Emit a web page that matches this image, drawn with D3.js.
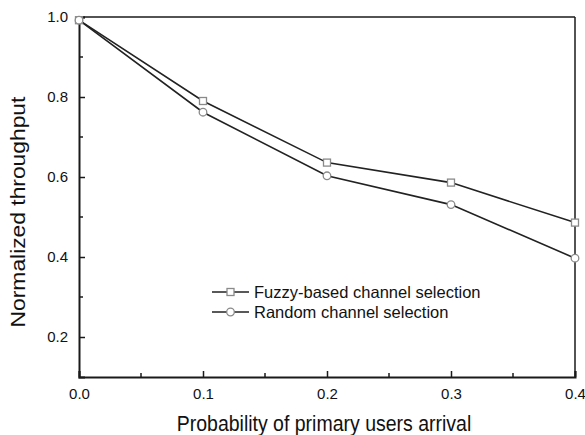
<!DOCTYPE html>
<html>
<head>
<meta charset="utf-8">
<script src="https://cdn.jsdelivr.net/npm/d3@7"></script>
<style>
  body { margin: 0; background: #fff; }
  text { font-family: "Liberation Sans", Arial, sans-serif; fill: #111; }
</style>
</head>
<body>
<svg id="chart" width="585" height="435"></svg>
<script>
// Données
const probs = [0.0, 0.1, 0.2, 0.3, 0.4];
const fuzzy = [0.992, 0.79, 0.636, 0.586, 0.486];
const random = [0.992, 0.762, 0.603, 0.531, 0.397];
const seriesNames = ["Fuzzy-based channel selection", "Random channel selection"];
const xTicks = [0.0, 0.1, 0.2, 0.3, 0.4];
const xMinor = [0.05, 0.15, 0.25, 0.35];
const yTicks = [0.2, 0.4, 0.6, 0.8, 1.0];
const yMinor = [0.3, 0.5, 0.7, 0.9];

const svg = d3.select("#chart");
const margin = { top: 17, right: 10, bottom: 58, left: 79 };
const W = 585, H = 435;

const x = d3.scaleLinear().domain([0, 0.4]).range([margin.left, W - margin.right]);
const y = d3.scaleLinear().domain([0.1, 1.0]).range([H - margin.bottom, margin.top]);

const ink = "#1a1a1a";

// Cadre (haut et droite)
svg.append("line")
  .attr("x1", x(0)).attr("x2", x(0.4)).attr("y1", y(1.0)).attr("y2", y(1.0))
  .attr("stroke", ink).attr("stroke-width", 1.5);
svg.append("line")
  .attr("x1", x(0.4)).attr("x2", x(0.4)).attr("y1", y(1.0)).attr("y2", y(0.1))
  .attr("stroke", ink).attr("stroke-width", 1.5);

// Axe X : graduations vers l'intérieur
const gx = svg.append("g").attr("transform", `translate(0,${y(0.1)})`);
gx.call(d3.axisBottom(x).tickValues(xTicks).tickSize(-6).tickPadding(18).tickFormat(d3.format(".1f")));
gx.append("g").selectAll("line").data(xMinor).join("line")
  .attr("x1", d => x(d)).attr("x2", d => x(d)).attr("y1", 0).attr("y2", -4)
  .attr("stroke", ink).attr("stroke-width", 1.5);

// Axe Y
const gy = svg.append("g").attr("transform", `translate(${x(0)},0)`);
gy.call(d3.axisLeft(y).tickValues(yTicks).tickSize(-6).tickPadding(11).tickFormat(d3.format(".1f")));
gy.append("g").selectAll("line").data(yMinor).join("line")
  .attr("x1", 0).attr("x2", 4).attr("y1", d => y(d)).attr("y2", d => y(d))
  .attr("stroke", ink).attr("stroke-width", 1.5);

svg.selectAll(".domain").attr("stroke", ink).attr("stroke-width", 2);
svg.selectAll(".tick line").attr("stroke", ink).attr("stroke-width", 1.5);
svg.selectAll(".tick text")
  .style("font-size", "15px")
  .style("fill", "#111")
  .style("font-family", "'Liberation Sans', Arial, sans-serif");
gx.selectAll(".tick text").attr("dy", "0.71em").attr("y", 11);

// Titres des axes
svg.append("text")
  .attr("transform", `translate(${(x(0) + x(0.4)) / 2 - 3},431) scale(1,1.15)`)
  .attr("text-anchor", "middle")
  .style("font-size", "19.5px")
  .text("Probability of primary users arrival");

svg.append("text")
  .attr("transform", `translate(25,212) rotate(-90) scale(1.17,1)`)
  .attr("text-anchor", "middle")
  .style("font-size", "19.5px")
  .text("Normalized throughput");

// Courbes
const line = d3.line().x(d => x(d[0])).y(d => y(d[1]));
const dataF = probs.map((p, i) => [p, fuzzy[i]]);
const dataR = probs.map((p, i) => [p, random[i]]);

[dataF, dataR].forEach(d => {
  svg.append("path").datum(d)
    .attr("fill", "none").attr("stroke", "#222").attr("stroke-width", 1.6)
    .attr("d", line);
});

const mk = "#8a8a8a";
svg.append("g").selectAll("rect").data(dataF).join("rect")
  .attr("x", d => x(d[0]) - 3.5).attr("y", d => y(d[1]) - 3.5)
  .attr("width", 7).attr("height", 7)
  .attr("fill", "#fff").attr("stroke", mk).attr("stroke-width", 1.3);
svg.append("g").selectAll("circle").data(dataR).join("circle")
  .attr("cx", d => x(d[0])).attr("cy", d => y(d[1])).attr("r", 3.8)
  .attr("fill", "#fff").attr("stroke", mk).attr("stroke-width", 1.3);

// Légende
const lg = svg.append("g");
const rows = [292, 312];
rows.forEach((ry, i) => {
  lg.append("line").attr("x1", 212).attr("x2", 249).attr("y1", ry).attr("y2", ry)
    .attr("stroke", "#222").attr("stroke-width", 1.6);
  if (i === 0) {
    lg.append("rect").attr("x", 227).attr("y", ry - 3.5).attr("width", 7).attr("height", 7)
      .attr("fill", "#fff").attr("stroke", mk).attr("stroke-width", 1.3);
  } else {
    lg.append("circle").attr("cx", 230.5).attr("cy", ry).attr("r", 3.8)
      .attr("fill", "#fff").attr("stroke", mk).attr("stroke-width", 1.3);
  }
  lg.append("text").attr("x", 254).attr("y", ry).attr("dy", "0.36em")
    .style("font-size", "16.5px").text(seriesNames[i]);
});
</script>
</body>
</html>
